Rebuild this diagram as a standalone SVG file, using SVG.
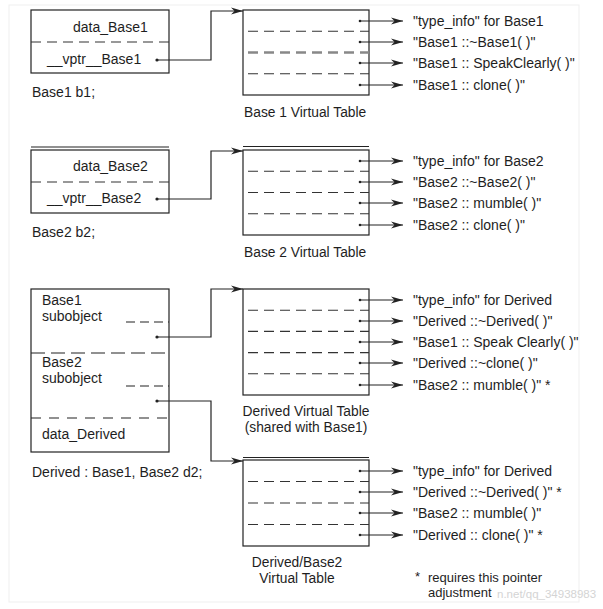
<svg xmlns="http://www.w3.org/2000/svg" width="603" height="609" viewBox="0 0 603 609">
<style>
text{font-family:"Liberation Sans",Arial,sans-serif;fill:#1e1e1e}
.bx{fill:none;stroke:#222;stroke-width:1.2}
.ln{fill:none;stroke:#222;stroke-width:1.1}
.dl{fill:none;stroke:#333;stroke-width:1.1;stroke-dasharray:10 6}
.bt{font-size:14px}
.rt{font-size:14px}
.ft{font-size:13px}
.lb{font-size:13.8px}
.ar{fill:none;stroke:#222;stroke-width:1.1;marker-end:url(#ah)}
.cn{fill:none;stroke:#222;stroke-width:1.2;marker-end:url(#ah)}
.dot{fill:#222}
</style>
<defs>
<marker id="ah" viewBox="0 0 12 8" refX="12" refY="4" markerWidth="12" markerHeight="8" markerUnits="userSpaceOnUse" orient="auto">
<path d="M0,0.5 L12,4 L0,7.5 L3.5,4 z" fill="#222"/>
</marker>
</defs>
<rect x="0" y="0" width="603" height="609" fill="#fff"/>
<rect x="9" y="5" width="570" height="597" fill="none" stroke="#efefef" stroke-width="1"/>

<g id="b1">
<rect class="bx" x="31" y="10" width="138" height="63"/>
<line class="dl" x1="31" y1="42" x2="169" y2="42"/>
<text class="bt" x="73" y="32">data_Base1</text>
<text class="bt" x="47" y="64">__vptr__Base1</text>
<circle class="dot" cx="157" cy="60" r="1.6"/>
<text class="bt" x="32" y="97">Base1 b1;</text>
</g>

<g id="vt1">
<rect class="bx" x="243" y="10" width="126" height="85"/>
<line class="dl" x1="248" y1="31.3" x2="369" y2="31.3"/>
<line x1="248" y1="52.5" x2="369" y2="52.5" stroke="#888" stroke-width="2.4" stroke-dasharray="10 6"/>
<line class="dl" x1="248" y1="73.8" x2="369" y2="73.8"/>
<circle class="dot" cx="360" cy="21" r="1.3"/><line class="ar" x1="360" y1="21" x2="403" y2="21"/>
<circle class="dot" cx="360" cy="42" r="1.3"/><line class="ar" x1="360" y1="42" x2="403" y2="42"/>
<circle class="dot" cx="360" cy="63" r="1.3"/><line class="ar" x1="360" y1="63" x2="403" y2="63"/>
<circle class="dot" cx="360" cy="85" r="1.3"/><line class="ar" x1="360" y1="85" x2="403" y2="85"/>
<text class="rt" x="413" y="26">"type_info" for Base1</text>
<text class="rt" x="413" y="47">"Base1 ::~Base1( )"</text>
<text class="rt" x="413" y="68">"Base1 :: SpeakClearly( )"</text>
<text class="rt" x="413" y="90">"Base1 :: clone( )"</text>
<text class="lb" x="244" y="117">Base 1 Virtual Table</text>
</g>

<g id="b2">
<line class="ln" x1="31" y1="147" x2="169" y2="147" stroke="#666"/>
<rect class="bx" x="31" y="150" width="138" height="63"/>
<line class="dl" x1="31" y1="182" x2="169" y2="182"/>
<text class="bt" x="73" y="171">data_Base2</text>
<text class="bt" x="47" y="203">__vptr__Base2</text>
<circle class="dot" cx="157" cy="199" r="1.6"/>
<text class="bt" x="32" y="237">Base2 b2;</text>
</g>

<g id="vt2">
<line class="ln" x1="243" y1="146.5" x2="369" y2="146.5" stroke="#666"/>
<rect class="bx" x="243" y="150" width="126" height="85"/>
<line class="dl" x1="248" y1="171.3" x2="369" y2="171.3"/>
<line class="dl" x1="248" y1="192.5" x2="369" y2="192.5"/>
<line class="dl" x1="248" y1="213.8" x2="369" y2="213.8"/>
<circle class="dot" cx="360" cy="161" r="1.3"/><line class="ar" x1="360" y1="161" x2="403" y2="161"/>
<circle class="dot" cx="360" cy="182" r="1.3"/><line class="ar" x1="360" y1="182" x2="403" y2="182"/>
<circle class="dot" cx="360" cy="203" r="1.3"/><line class="ar" x1="360" y1="203" x2="403" y2="203"/>
<circle class="dot" cx="360" cy="225" r="1.3"/><line class="ar" x1="360" y1="225" x2="403" y2="225"/>
<text class="rt" x="413" y="166">"type_info" for Base2</text>
<text class="rt" x="413" y="187">"Base2 ::~Base2( )"</text>
<text class="rt" x="413" y="208">"Base2 :: mumble( )"</text>
<text class="rt" x="413" y="230">"Base2 :: clone( )"</text>
<text class="lb" x="244" y="257">Base 2 Virtual Table</text>
</g>

<g id="d2">
<rect class="bx" x="31" y="289" width="138" height="163"/>
<line class="ln" x1="31" y1="353" x2="169" y2="353" stroke-dasharray="14 6"/>
<line class="ln" x1="31" y1="418" x2="169" y2="418" stroke-dasharray="10 8"/>
<line class="ln" x1="126" y1="322" x2="169" y2="322" stroke-dasharray="9 5"/>
<line class="ln" x1="126" y1="386" x2="169" y2="386" stroke-dasharray="9 5"/>
<circle class="dot" cx="157" cy="337" r="1.6"/>
<circle class="dot" cx="157" cy="401" r="1.6"/>
<text class="bt" x="42" y="305">Base1</text>
<text class="bt" x="42" y="321">subobject</text>
<text class="bt" x="42" y="367">Base2</text>
<text class="bt" x="42" y="383">subobject</text>
<text class="bt" x="42" y="439">data_Derived</text>
<text class="bt" x="32" y="477">Derived : Base1, Base2 d2;</text>
</g>

<g id="vt3">
<rect class="bx" x="243" y="289" width="126" height="106"/>
<line class="dl" x1="248" y1="310.2" x2="369" y2="310.2"/>
<line class="dl" x1="248" y1="331.4" x2="369" y2="331.4"/>
<line class="dl" x1="248" y1="352.6" x2="369" y2="352.6"/>
<line class="dl" x1="248" y1="373.8" x2="369" y2="373.8"/>
<circle class="dot" cx="360" cy="300" r="1.3"/><line class="ar" x1="360" y1="300" x2="403" y2="300"/>
<circle class="dot" cx="360" cy="321" r="1.3"/><line class="ar" x1="360" y1="321" x2="403" y2="321"/>
<circle class="dot" cx="360" cy="342" r="1.3"/><line class="ar" x1="360" y1="342" x2="403" y2="342"/>
<circle class="dot" cx="360" cy="363" r="1.3"/><line class="ar" x1="360" y1="363" x2="403" y2="363"/>
<circle class="dot" cx="360" cy="385" r="1.3"/><line class="ar" x1="360" y1="385" x2="403" y2="385"/>
<text class="rt" x="413" y="305">"type_info" for Derived</text>
<text class="rt" x="413" y="326">"Derived ::~Derived( )"</text>
<text class="rt" x="413" y="347">"Base1 :: Speak Clearly( )"</text>
<text class="rt" x="413" y="368">"Derived ::~clone( )"</text>
<text class="rt" x="413" y="390">"Base2 :: mumble( )"  *</text>
<text class="lb" x="306" y="416" text-anchor="middle">Derived Virtual Table</text>
<text class="lb" x="306" y="432" text-anchor="middle">(shared with Base1)</text>
</g>

<g id="vt4">
<line class="ln" x1="243" y1="457.5" x2="369" y2="457.5" stroke="#666"/>
<rect class="bx" x="243" y="460" width="126" height="86"/>
<line class="dl" x1="248" y1="481.5" x2="369" y2="481.5"/>
<line class="dl" x1="248" y1="503" x2="369" y2="503"/>
<line class="dl" x1="248" y1="524.5" x2="369" y2="524.5"/>
<circle class="dot" cx="360" cy="471" r="1.3"/><line class="ar" x1="360" y1="471" x2="403" y2="471"/>
<circle class="dot" cx="360" cy="492" r="1.3"/><line class="ar" x1="360" y1="492" x2="403" y2="492"/>
<circle class="dot" cx="360" cy="513" r="1.3"/><line class="ar" x1="360" y1="513" x2="403" y2="513"/>
<circle class="dot" cx="360" cy="535" r="1.3"/><line class="ar" x1="360" y1="535" x2="403" y2="535"/>
<text class="rt" x="413" y="476">"type_info" for Derived</text>
<text class="rt" x="413" y="497">"Derived ::~Derived( )"  *</text>
<text class="rt" x="413" y="518">"Base2 :: mumble( )"</text>
<text class="rt" x="413" y="540">"Derived :: clone( )"  *</text>
<text class="lb" x="297" y="567" text-anchor="middle">Derived/Base2</text>
<text class="lb" x="297" y="583" text-anchor="middle">Virtual Table</text>
</g>

<g id="note">
<text x="497" y="598" style="font-size:11.5px;fill:#d4d4d4">n.net/qq_34938983</text>
<text class="ft" x="415" y="581">*</text>
<text class="ft" x="428" y="582">requires this pointer</text>
<text class="ft" x="428" y="597">adjustment</text>
</g>

<g id="connectors">
<path class="cn" d="M157,60 H211 V11 H243"/>
<path class="cn" d="M157,199 H211 V151 H243"/>
<path class="cn" d="M157,337 H211 V289 H243"/>
<path class="cn" d="M157,401 H211 V461 H243"/>
</g>
</svg>
